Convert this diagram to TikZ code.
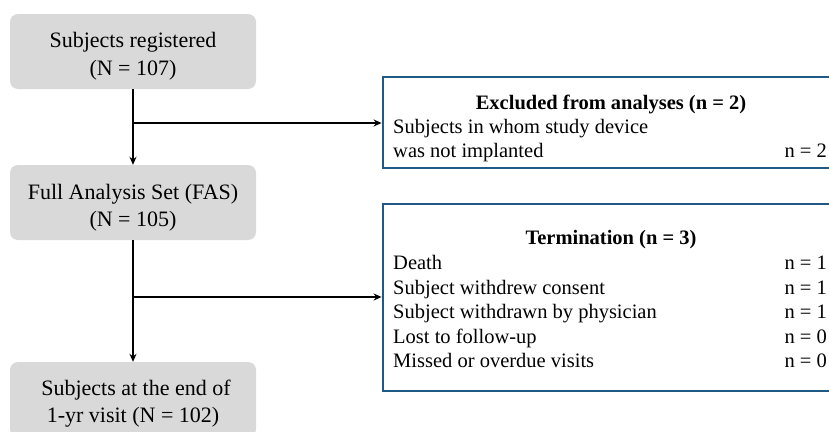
\documentclass[tikz,border=0pt]{standalone}
\usepackage{fontspec}
\setmainfont{Liberation Serif}
\usetikzlibrary{arrows.meta}
\definecolor{boxgray}{HTML}{D9D9D9}
\definecolor{boxblue}{HTML}{1F5A85}
\tikzset{
  graybox/.style={fill=boxgray, rounded corners=8pt, minimum width=246pt, minimum height=75pt, inner sep=0pt},
  bluebox/.style={draw=boxblue, line width=2.8pt, minimum width=456pt, inner sep=0pt},
  flow/.style={line width=2.5pt, -{Stealth[length=8pt,width=7pt]}},
  gtext/.style={font=\fontsize{22}{28}\selectfont, anchor=base, inner sep=0pt},
  btext/.style={font=\fontsize{20.5}{24}\selectfont, anchor=base west, inner sep=0pt},
  ntext/.style={font=\fontsize{20.5}{24}\selectfont, anchor=base east, inner sep=0pt},
  ttext/.style={font=\fontsize{20.5}{24}\selectfont\bfseries, anchor=base, inner sep=0pt}
}
\begin{document}
\begin{tikzpicture}[x=1pt,y=-1pt]
\clip (0,0) rectangle (829,431);
\fill[white] (0,0) rectangle (829,431);
% gray boxes
\node[graybox] (reg) at (133,51.5) {};
\node[graybox] (fas) at (133,202.5) {};
\node[graybox] (end) at (133,399.5) {};
\node[gtext] (reg1) at (133,47) {Subjects registered};
\node[gtext] (reg2) at (133,75) {(N = 107)};
\node[gtext] (fas1) at (133,199) {Full Analysis Set (FAS)};
\node[gtext] (fas2) at (133,226) {(N = 105)};
\node[gtext] (end1) at (136,395) {Subjects at the end of};
\node[gtext] (end2) at (133,422) {1-yr visit (N = 102)};
% blue boxes
\node[bluebox, minimum height=91pt] (exc) at (611,122.5) {};
\node[bluebox, minimum height=187pt] (ter) at (611,297.5) {};
\node[ttext] (exct) at (611,109) {Excluded from analyses (n = 2)};
\node[btext] (exc1) at (393,133) {Subjects in whom study device};
\node[btext] (exc2) at (393,157) {was not implanted};
\node[ntext] (excn) at (827,157) {n = 2};
\node[ttext] (tert) at (611,244) {Termination (n = 3)};
\node[btext] (t1) at (393,269) {Death};
\node[btext] (t2) at (393,294) {Subject withdrew consent};
\node[btext] (t3) at (393,318) {Subject withdrawn by physician};
\node[btext] (t4) at (393,343) {Lost to follow-up};
\node[btext] (t5) at (393,367) {Missed or overdue visits};
\node[ntext] (n1) at (827,269) {n = 1};
\node[ntext] (n2) at (827,294) {n = 1};
\node[ntext] (n3) at (827,318) {n = 1};
\node[ntext] (n4) at (827,343) {n = 0};
\node[ntext] (n5) at (827,367) {n = 0};
% connectors
\coordinate (b1) at (133,123);
\coordinate (b2) at (133,297);
\draw[flow] (reg.south) -- (fas.north);
\draw[flow] (fas.south) -- (end.north);
\draw[flow] (b1) -- (exc.west |- b1);
\draw[flow] (b2) -- (ter.west |- b2);
\end{tikzpicture}
\end{document}
